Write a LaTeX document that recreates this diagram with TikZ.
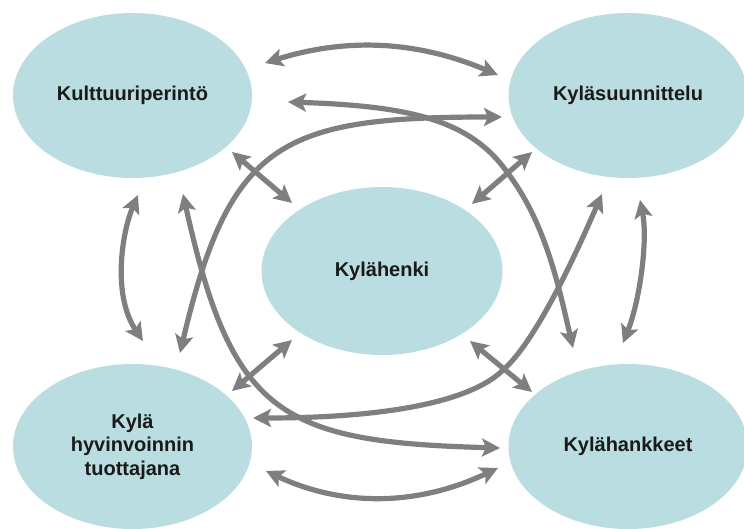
\documentclass[tikz,border=0pt]{standalone}
\usepackage{fontspec}
\setmainfont{Liberation Sans}
\usetikzlibrary{shapes.geometric,arrows.meta}
\definecolor{ellfill}{RGB}{185,221,224}
\definecolor{arrgray}{RGB}{127,127,129}
\definecolor{txt}{RGB}{26,26,26}
\begin{document}
\begin{tikzpicture}[x=1pt,y=-1pt,
  bub/.style={ellipse, fill=ellfill, draw=none, minimum width=239pt, minimum height=165pt,
    inner sep=0pt, font=\fontsize{20}{23.5}\selectfont\bfseries, text=txt, align=center},
  link/.style={draw=arrgray, line width=5.2pt,
    {Stealth[length=18pt,width=18pt,inset=4pt]}-{Stealth[length=18pt,width=18pt,inset=4pt]}},
]
\useasboundingbox (0,0) rectangle (744,529);

% ellipses
\node[bub] (kp) at (132.5,95.5) {Kulttuuriperintö};
\node[bub] (ks) at (628,95.5) {Kyläsuunnittelu};
\node[bub, minimum width=241pt, minimum height=168pt] (kh) at (382,271) {Kylähenki};
\node[bub] (kv) at (132.5,446.5) {Kylä\\hyvinvoinnin\\tuottajana};
\node[bub] (ka) at (628,446.5) {Kylähankkeet};

% connector end points
\coordinate (top1) at (265,63);   \coordinate (top2) at (498,75);
\coordinate (bot1) at (266,471);  \coordinate (bot2) at (498,468);
\coordinate (lv1) at (138,195);   \coordinate (lv2) at (143,341);
\coordinate (rv1) at (640,200);   \coordinate (rv2) at (623,343);
\coordinate (a1s) at (180,353);   \coordinate (a1e) at (502,117);
\coordinate (a2s) at (288,102);   \coordinate (a2e) at (573,348);
\coordinate (a3s) at (253,418);   \coordinate (a3e) at (602,194);
\coordinate (a4s) at (183,194);   \coordinate (a4e) at (500,448);
\coordinate (d1a) at (232,152);   \coordinate (d1b) at (292,203);
\coordinate (d2a) at (532,152);   \coordinate (d2b) at (472,204);
\coordinate (d3a) at (232,391);   \coordinate (d3b) at (292,340);
\coordinate (d4a) at (532,392);   \coordinate (d4b) at (470,341);

% outer arcs
\draw[link] (top1) .. controls (345,38) and (415,40) .. (top2);
\draw[link] (bot1) .. controls (345,508) and (420,505) .. (bot2);
\draw[link] (lv1) .. controls (122,232) and (112,295) .. (lv2);
\draw[link] (rv1) .. controls (648,240) and (640,300) .. (rv2);

% large crossing arcs
\draw[link] (a1s) .. controls (230,140.5) and (282,117) .. (a1e);
\draw[link] (a2s) .. controls (410,106) and (470,120) .. (507,172) .. controls (545,222) and (558,283) .. (a2e);
\draw[link] (a3s) .. controls (400,418) and (475,398) .. (503,370) .. controls (538,340) and (582,240) .. (a3e);
\draw[link] (a4s) .. controls (232,415) and (280,442) .. (a4e);

% diagonals to the centre
\draw[link] (d1a) -- (d1b);
\draw[link] (d2a) -- (d2b);
\draw[link] (d3a) -- (d3b);
\draw[link] (d4a) -- (d4b);
\end{tikzpicture}
\end{document}
